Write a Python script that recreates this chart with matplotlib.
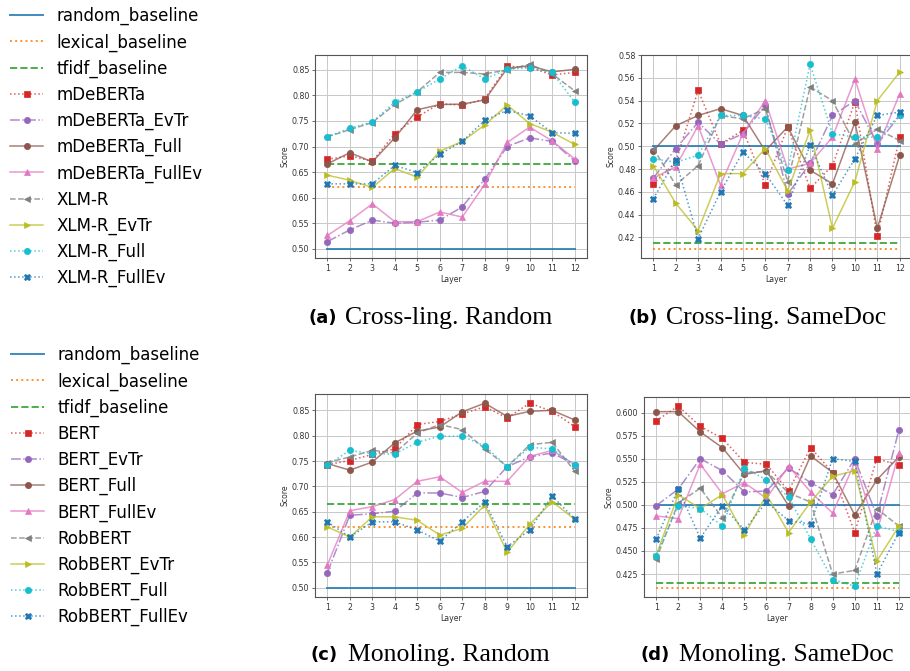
import matplotlib
matplotlib.use("Agg")
import matplotlib.pyplot as plt

W, H = 910, 671

layers = list(range(1, 13))

# ---------------- data ----------------
baseline_names = ["random_baseline", "lexical_baseline", "tfidf_baseline"]
cross_baselines = [0.50, 0.62, 0.665]
cross_same_baselines = [0.50, 0.410, 0.415]
mono_baselines = [0.50, 0.62, 0.665]
mono_same_baselines = [0.50, 0.410, 0.4155]

cross_models = ["mDeBERTa", "mDeBERTa_EvTr", "mDeBERTa_Full", "mDeBERTa_FullEv",
                "XLM-R", "XLM-R_EvTr", "XLM-R_Full", "XLM-R_FullEv"]
mono_models = ["BERT", "BERT_EvTr", "BERT_Full", "BERT_FullEv",
               "RobBERT", "RobBERT_EvTr", "RobBERT_Full", "RobBERT_FullEv"]

# (a) Cross-ling. Random
a_vals = [
    [0.675, 0.682, 0.671, 0.725, 0.758, 0.784, 0.781, 0.793, 0.857, 0.855, 0.840, 0.845],
    [0.514, 0.537, 0.556, 0.550, 0.552, 0.556, 0.582, 0.636, 0.700, 0.717, 0.710, 0.672],
    [0.666, 0.688, 0.670, 0.717, 0.772, 0.782, 0.783, 0.791, 0.853, 0.858, 0.846, 0.851],
    [0.526, 0.555, 0.588, 0.553, 0.553, 0.572, 0.562, 0.626, 0.708, 0.738, 0.711, 0.676],
    [0.719, 0.733, 0.747, 0.782, 0.807, 0.845, 0.845, 0.842, 0.850, 0.861, 0.842, 0.809],
    [0.644, 0.634, 0.620, 0.657, 0.640, 0.691, 0.710, 0.742, 0.781, 0.745, 0.728, 0.704],
    [0.719, 0.736, 0.748, 0.787, 0.807, 0.832, 0.858, 0.832, 0.851, 0.854, 0.845, 0.787],
    [0.627, 0.627, 0.627, 0.663, 0.649, 0.685, 0.710, 0.751, 0.771, 0.760, 0.727, 0.726],
]

# (b) Cross-ling. SameDoc
b_vals = [
    [0.467, 0.486, 0.549, 0.502, 0.514, 0.466, 0.517, 0.463, 0.483, 0.539, 0.421, 0.508],
    [0.472, 0.498, 0.521, 0.502, 0.511, 0.536, 0.458, 0.485, 0.527, 0.540, 0.502, 0.527],
    [0.496, 0.518, 0.527, 0.533, 0.527, 0.496, 0.517, 0.479, 0.467, 0.521, 0.428, 0.492],
    [0.472, 0.482, 0.518, 0.466, 0.511, 0.540, 0.480, 0.485, 0.508, 0.559, 0.498, 0.546],
    [0.498, 0.466, 0.483, 0.527, 0.524, 0.533, 0.469, 0.552, 0.540, 0.502, 0.515, 0.505],
    [0.483, 0.450, 0.426, 0.476, 0.476, 0.498, 0.461, 0.514, 0.428, 0.469, 0.540, 0.565],
    [0.489, 0.486, 0.492, 0.527, 0.527, 0.524, 0.479, 0.572, 0.511, 0.508, 0.508, 0.527],
    [0.454, 0.488, 0.419, 0.460, 0.495, 0.476, 0.448, 0.501, 0.457, 0.489, 0.527, 0.530],
]

# (c) Monoling. Random
c_vals = [
    [0.743, 0.751, 0.763, 0.774, 0.822, 0.828, 0.843, 0.857, 0.835, 0.864, 0.848, 0.818],
    [0.530, 0.643, 0.646, 0.651, 0.687, 0.687, 0.678, 0.690, 0.739, 0.758, 0.766, 0.743],
    [0.745, 0.732, 0.748, 0.786, 0.809, 0.817, 0.847, 0.864, 0.838, 0.848, 0.850, 0.831],
    [0.545, 0.652, 0.660, 0.674, 0.710, 0.719, 0.688, 0.710, 0.710, 0.759, 0.771, 0.743],
    [0.747, 0.758, 0.771, 0.766, 0.805, 0.822, 0.812, 0.774, 0.739, 0.782, 0.787, 0.730],
    [0.620, 0.600, 0.640, 0.640, 0.633, 0.604, 0.617, 0.663, 0.570, 0.625, 0.670, 0.635],
    [0.742, 0.771, 0.764, 0.764, 0.787, 0.799, 0.799, 0.780, 0.739, 0.777, 0.774, 0.742],
    [0.630, 0.600, 0.630, 0.630, 0.614, 0.592, 0.630, 0.669, 0.581, 0.614, 0.681, 0.636],
]

# (d) Monoling. SameDoc
d_vals = [
    [0.591, 0.607, 0.585, 0.572, 0.546, 0.544, 0.515, 0.562, 0.535, 0.470, 0.550, 0.543],
    [0.499, 0.517, 0.550, 0.537, 0.514, 0.515, 0.540, 0.524, 0.511, 0.550, 0.488, 0.581],
    [0.601, 0.601, 0.579, 0.562, 0.533, 0.537, 0.499, 0.553, 0.535, 0.489, 0.527, 0.552],
    [0.488, 0.485, 0.544, 0.512, 0.524, 0.507, 0.542, 0.514, 0.491, 0.546, 0.470, 0.556],
    [0.441, 0.502, 0.518, 0.486, 0.535, 0.536, 0.513, 0.503, 0.425, 0.429, 0.496, 0.477],
    [0.445, 0.511, 0.496, 0.511, 0.467, 0.511, 0.470, 0.503, 0.531, 0.537, 0.439, 0.477],
    [0.445, 0.499, 0.496, 0.477, 0.540, 0.527, 0.509, 0.463, 0.419, 0.412, 0.477, 0.471],
    [0.463, 0.517, 0.464, 0.499, 0.473, 0.503, 0.483, 0.479, 0.550, 0.547, 0.425, 0.470],
]

captions = [("(a)", "Cross-ling. Random"), ("(b)", "Cross-ling. SameDoc"),
            ("(c)", "Monoling. Random"), ("(d)", "Monoling. SameDoc")]

# ---------------- styles ----------------
base_styles = [("tab:blue", "-"), ("tab:orange", ":"), ("tab:green", "--")]
model_styles = [("tab:red", ":", "s"), ("tab:purple", "-.", "o"), ("tab:brown", "-", "o"),
                ("tab:pink", "-", "^"), ("tab:gray", "--", "<"), ("tab:olive", "-", ">"),
                ("tab:cyan", ":", "o"), ("tab:blue", ":", "X")]

fig = plt.figure(figsize=(W / 100, H / 100), dpi=100)


def rect(l, r, t, b):
    return [l / W, 1 - b / H, (r - l) / W, (b - t) / H]


def draw(ax, base_vals, models, vals):
    handles = []
    for name, v, (c, ls) in zip(baseline_names, base_vals, base_styles):
        h, = ax.plot(layers, [v] * len(layers), color=c, ls=ls, lw=1.4, alpha=0.85, label=name)
        handles.append(h)
    for name, ys, (c, ls, mk) in zip(models, vals, model_styles):
        rgba = matplotlib.colors.to_rgba(c)
        h, = ax.plot(layers, ys, color=(rgba[0], rgba[1], rgba[2], 0.75), ls=ls, lw=1.1,
                     marker=mk, markersize=4.5, markerfacecolor=rgba[:3],
                     markeredgecolor=rgba[:3], markeredgewidth=0.5, label=name)
        handles.append(h)
    ax.set_xticks(layers)
    ax.grid(True, color="#c8c8c8", lw=0.7)
    ax.set_axisbelow(True)
    ax.tick_params(labelsize=5.7, length=2.5, width=0.5, pad=1.5, colors="#333333")
    ax.set_xlabel("Layer", fontsize=5.6, labelpad=1.5, color="#333333")
    ax.set_ylabel("Score", fontsize=5.6, labelpad=2, color="#333333")
    for s in ax.spines.values():
        s.set_color("#555555")
        s.set_linewidth(0.8)
    return handles


ax_a = fig.add_axes(rect(315, 587, 55, 258))
ax_b = fig.add_axes(rect(641, 912, 55, 258))
ax_c = fig.add_axes(rect(315, 587, 394, 597))
ax_d = fig.add_axes(rect(644, 911, 397, 597))

ha = draw(ax_a, cross_baselines, cross_models, a_vals)
draw(ax_b, cross_same_baselines, cross_models, b_vals)
hc = draw(ax_c, mono_baselines, mono_models, c_vals)
draw(ax_d, mono_same_baselines, mono_models, d_vals)

leg_kw = dict(loc="upper left", frameon=False, fontsize=12, borderaxespad=0, borderpad=0,
              labelspacing=0.48, handlelength=2.0, handletextpad=0.8, markerscale=1.0)
fig.legend(handles=ha, labels=[h.get_label() for h in ha],
           bbox_to_anchor=(10 / W, 1 - 7 / H), **leg_kw)
fig.legend(handles=hc, labels=[h.get_label() for h in hc],
           bbox_to_anchor=(11 / W, 1 - 346 / H), **leg_kw)

cap_pos = [(308, 345, 318), (628, 666, 318), (311, 348, 655), (641, 679, 655)]
for (lab, txt), (x1, x2, y) in zip(captions, cap_pos):
    fig.text(x1 / W, 1 - y / H, lab, fontsize=13, fontweight="bold",
             family="DejaVu Sans", ha="left", va="center")
    fig.text(x2 / W, 1 - y / H, txt, fontsize=18.5, family="Liberation Serif",
             ha="left", va="center")

fig.savefig("out.png", dpi=100)
